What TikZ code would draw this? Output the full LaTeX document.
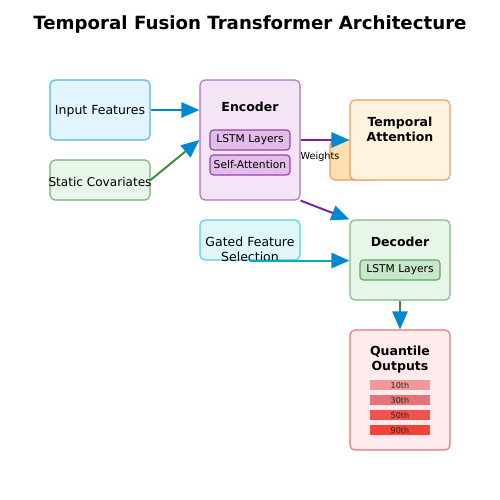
\documentclass[tikz,border=0pt]{standalone}
\usepackage{fontspec}
\setmainfont{DejaVu Sans}
\usetikzlibrary{arrows.meta,calc}
\definecolor{inFill}{HTML}{E1F5FE}\definecolor{inDraw}{HTML}{4FB3E6}
\definecolor{stFill}{HTML}{E8F5E9}\definecolor{stDraw}{HTML}{72B276}
\definecolor{enFill}{HTML}{F3E5F5}\definecolor{enDraw}{HTML}{B46CCC}
\definecolor{esFill}{HTML}{E1BEE7}\definecolor{esDraw}{HTML}{9C3FB4}
\definecolor{taFill}{HTML}{FFF3E0}\definecolor{taDraw}{HTML}{F29A5E}
\definecolor{blFill}{HTML}{FFE0B2}
\definecolor{deFill}{HTML}{E8F5E9}\definecolor{deDraw}{HTML}{7CBA7F}
\definecolor{dsFill}{HTML}{C8E6C9}\definecolor{dsDraw}{HTML}{5FA862}
\definecolor{gaFill}{HTML}{E0F7FA}\definecolor{gaDraw}{HTML}{4DCFE0}
\definecolor{quFill}{HTML}{FFEBEE}\definecolor{quDraw}{HTML}{E57373}
\definecolor{barA}{HTML}{EF9A9A}\definecolor{barB}{HTML}{E57373}
\definecolor{barC}{HTML}{EF5350}\definecolor{barD}{HTML}{F44336}
\definecolor{headBlue}{HTML}{0288D1}
\definecolor{lnBlue}{HTML}{0288D1}\definecolor{lnGreen}{HTML}{388E3C}
\definecolor{lnPurple}{HTML}{7B1FA2}\definecolor{lnCyan}{HTML}{00ACC1}
\tikzset{
  box/.style={draw, line width=0.8pt, rounded corners=3.6pt, inner sep=0pt, minimum width=72pt},
  boxtext/.style={inner sep=0pt, font=\fontsize{9}{10.8}\selectfont, align=center},
  subbox/.style={draw, line width=0.8pt, rounded corners=2.5pt, inner sep=0pt, minimum width=57.6pt, minimum height=14.4pt, font=\fontsize{7.7}{9}\selectfont},
  boxtitle/.style={inner sep=0pt, font=\fontsize{9}{10.8}\selectfont\bfseries, align=center},
  bar/.style={inner sep=0pt, minimum width=43.2pt, minimum height=7.2pt, font=\fontsize{5.8}{6.5}\selectfont, text=black!85},
  flow/.style={line width=1.4pt, -{Triangle[length=13pt,width=11pt,color=headBlue,fill=headBlue]}},
}
\begin{document}
\begin{tikzpicture}[x=0.72pt,y=-0.72pt]
\useasboundingbox (0,0) rectangle (500,500);
\node[inner sep=0pt, font=\fontsize{13.1}{15}\selectfont\bfseries] (title) at (250,24) {Temporal Fusion Transformer Architecture};
% left inputs
\node[box, fill=inFill, draw=inDraw, minimum height=43.2pt] (input) at (100,110) {};
\node[boxtext] (inputtext) at (100,111.5) {Input Features};
\node[box, fill=stFill, draw=stDraw, minimum height=28.8pt] (static) at (100,180) {};
\node[boxtext, font=\fontsize{8.7}{10.4}\selectfont] (statictext) at (100,181.5) {Static Covariates};
% encoder
\node[box, fill=enFill, draw=enDraw, minimum height=86.4pt] (encoder) at (250,140) {};
\node[boxtitle] (enctitle) at (250,107) {Encoder};
\node[subbox, fill=esFill, draw=esDraw] (enclstm) at (250,140) {LSTM Layers};
\node[subbox, fill=esFill, draw=esDraw] (encatt) at (250,165) {Self-Attention};
% temporal attention with weights
\node[draw=taDraw, fill=blFill, line width=0.8pt, rounded corners=3.6pt, inner sep=0pt, minimum width=36pt, minimum height=28.8pt] (weightsbox) at (355,160) {};
\node[box, fill=taFill, draw=taDraw, minimum height=57.6pt] (ta) at (400,140) {};
\node[boxtitle] (tatitle) at (400,129.5) {Temporal\\Attention};
% gated feature selection
\node[box, fill=gaFill, draw=gaDraw, minimum height=28.8pt] (gated) at (250,240) {};
\node[boxtext] (gatedtext) at (250,249.5) {Gated Feature\\Selection};
% decoder
\node[box, fill=deFill, draw=deDraw, minimum height=57.6pt] (decoder) at (400,260) {};
\node[boxtitle] (dectitle) at (400,242) {Decoder};
\node[subbox, fill=dsFill, draw=dsDraw] (declstm) at (400,270) {LSTM Layers};
% quantile outputs
\node[box, fill=quFill, draw=quDraw, minimum height=86.4pt] (quant) at (400,390) {};
\node[boxtitle] (qtitle) at (400,359.5) {Quantile\\Outputs};
\node[bar, fill=barA] (q10) at (400,385) {10th};
\node[bar, fill=barB] (q30) at (400,400) {30th};
\node[bar, fill=barC] (q50) at (400,415) {50th};
\node[bar, fill=barD] (q90) at (400,430) {90th};
% connectors
\draw[flow, lnBlue] (input.east) -- (input.east -| encoder.west);
\draw[flow, lnGreen] (static.east) -- (encoder.west);
\draw[flow, lnPurple] (encoder.east) -- (ta.west);
\node[inner sep=0pt, font=\fontsize{7}{8.4}\selectfont] (weights) at (320,157) {Weights};
\draw[flow, lnPurple] (encoder.south east) -- (decoder.north west);
\draw[flow, lnCyan] (gated.south) -- (gated.south -| decoder.west);
\draw[flow, lnGreen] (decoder.south) -- (quant.north);
\end{tikzpicture}
\end{document}
